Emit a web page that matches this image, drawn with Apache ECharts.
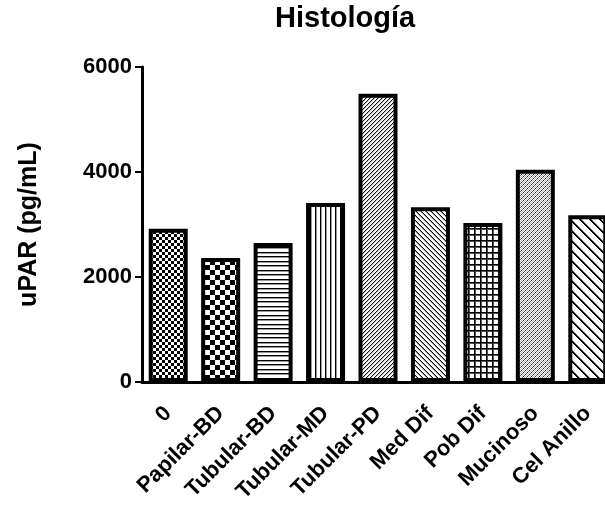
<!DOCTYPE html>
<html>
<head>
<meta charset="utf-8">
<script src="https://cdn.jsdelivr.net/npm/echarts@6/dist/echarts.min.js"></script>
<style>html,body{margin:0;padding:0;background:#fff;}#c{width:605px;height:507px;}</style>
</head>
<body>
<div id="c"></div>
<script>
const categories = ['0', 'Papilar-BD', 'Tubular-BD', 'Tubular-MD', 'Tubular-PD', 'Med Dif', 'Pob Dif', 'Mucinoso', 'Cel Anillo'];
const values = [2920, 2360, 2650, 3410, 5490, 3330, 3030, 4045, 3175];
const yTicks = [0, 2000, 4000, 6000];

function tile(w, h, draw) {
  const c = document.createElement('canvas');
  c.width = w; c.height = h;
  const g = c.getContext('2d');
  g.fillStyle = '#fff'; g.fillRect(0, 0, w, h);
  draw(g, w, h);
  return { image: c, repeat: 'repeat' };
}
function px(g, x, y, col) { g.fillStyle = col; g.fillRect(x, y, 1, 1); }

const patterns = [
  // fine checker
  tile(6, 6, g => { g.fillStyle = '#000'; g.fillRect(0, 0, 3, 3); g.fillRect(3, 3, 3, 3); }),
  // coarse checker
  tile(10, 10, g => { g.fillStyle = '#000'; g.fillRect(0, 0, 5, 5); g.fillRect(5, 5, 5, 5); }),
  // horizontal lines
  tile(1, 9, g => { px(g, 0, 0, '#000'); px(g, 0, 1, '#999'); px(g, 0, 4, '#000'); px(g, 0, 5, '#999'); }),
  // vertical lines
  tile(5, 1, g => { px(g, 0, 0, '#000'); px(g, 1, 0, '#999'); }),
  // dense "/" hatch
  tile(4, 4, (g, w) => { for (let x = 0; x < w; x++) { px(g, x, 3 - x, '#111'); px(g, x, (4 - x) % 4, '#bbb'); } }),
  // "\" hatch
  tile(5, 5, (g, w) => { for (let x = 0; x < w; x++) { px(g, x, x, '#000'); px(g, x, (x + 1) % 5, '#999'); } }),
  // grid
  tile(6, 6, g => { g.fillStyle = '#000'; g.fillRect(0, 0, 6, 1); g.fillRect(0, 0, 1, 6); g.fillStyle = '#555'; g.fillRect(1, 1, 5, 1); g.fillRect(1, 1, 1, 5); }),
  // stippled dense "/"
  tile(4, 4, (g, w) => { for (let x = 0; x < w; x++) { px(g, x, 3 - x, x % 2 ? '#222' : '#666'); px(g, x, (5 - x) % 4, '#bbb'); } }),
  // wide "\" hatch
  tile(10, 10, (g, w) => { for (let x = 0; x < w; x++) { px(g, x, x, '#000'); px(g, (x + 1) % w, x, '#000'); px(g, (x + 2) % w, x, '#888'); } })
];

const chart = echarts.init(document.getElementById('c'), null, { renderer: 'canvas' });
const FONT = 'Liberation Sans, Arial, sans-serif';
chart.setOption({
  animation: false,
  backgroundColor: '#fff',
  title: {
    text: 'Histología',
    left: 275, top: 4, padding: 0,
    textStyle: { fontFamily: FONT, fontWeight: 'bold', fontSize: 29, color: '#000' }
  },
  grid: { left: 142, right: -9, top: 67, bottom: 125, containLabel: false, outerBoundsMode: 'none' },
  xAxis: {
    type: 'category',
    data: categories,
    axisLine: { lineStyle: { color: '#000', width: 3 } },
    axisTick: { alignWithLabel: true, length: 8, lineStyle: { color: '#000', width: 2 } },
    axisLabel: { rotate: 45, interval: 0, margin: 28, color: '#000', fontFamily: FONT, fontWeight: 'bold', fontSize: 22 }
  },
  yAxis: {
    type: 'value',
    min: yTicks[0], max: yTicks[yTicks.length - 1], interval: 2000,
    name: 'uPAR (pg/mL)',
    nameLocation: 'middle',
    nameRotate: 90,
    nameGap: 100,
    nameTextStyle: { fontFamily: FONT, fontWeight: 'bold', fontSize: 25, color: '#000' },
    axisLine: { show: true, lineStyle: { color: '#000', width: 3 } },
    axisTick: { show: true, length: 7, lineStyle: { color: '#000', width: 2 } },
    splitLine: { show: false },
    axisLabel: { margin: 10, color: '#000', fontFamily: FONT, fontWeight: 'bold', fontSize: 22, formatter: v => String(v) }
  },
  series: [{
    type: 'bar',
    barWidth: 39,
    data: values.map((v, i) => ({
      value: v,
      itemStyle: { color: patterns[i], borderColor: '#000', borderWidth: 4 }
    }))
  }]
});
</script>
</body>
</html>
